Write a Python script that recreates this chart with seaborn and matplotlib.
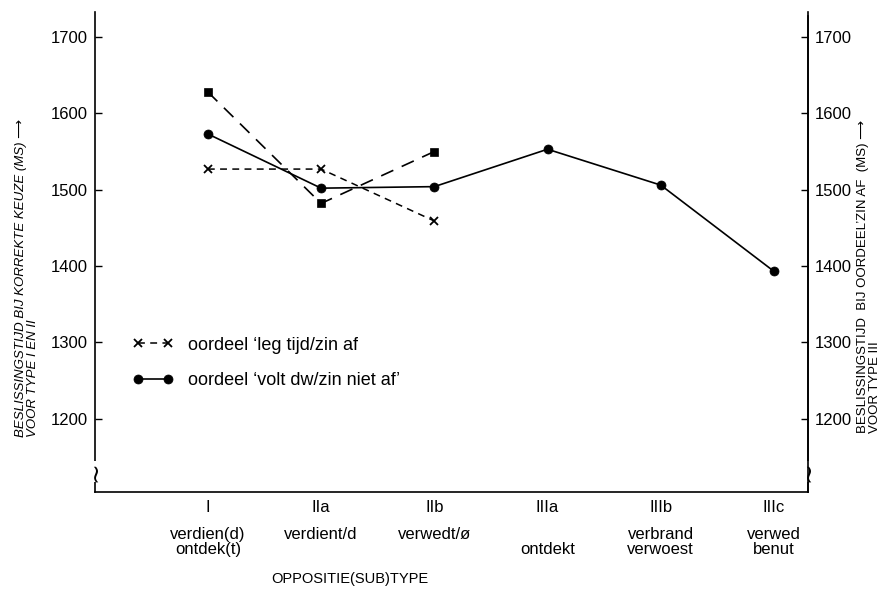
import numpy as np
import pandas as pd
import seaborn as sns
import matplotlib
matplotlib.use('Agg')
from matplotlib import pyplot as plt
import matplotlib.transforms as mtransforms

# Opposition (sub)types on the x axis, with example words beneath
types = ['I', 'IIa', 'IIb', 'IIIa', 'IIIb', 'IIIc']
words = ['verdien(d)\nontdek(t)', 'verdient/d', 'verwedt/ø', '\nontdekt', 'verbrand\nverwoest', 'verwed\nbenut']

# Decision times (ms)
leg_tijd = [1527, 1527, 1459]                      # oordeel 'leg tijd/zin af  (x, short dash)
volt_dw = [1573, 1502, 1504, 1553, 1506, 1393]     # oordeel 'volt dw/zin niet af'  (dot, solid)
zin_af = [1628, 1482, 1550]                        # squares, long dash (no legend entry)

sns.set_theme(style='white')
plt.rcParams['font.family'] = ['Liberation Sans', 'DejaVu Sans']
plt.rcParams['text.color'] = 'black'
plt.rcParams['axes.labelcolor'] = 'black'

fig = plt.figure(figsize=(8.91, 5.92), dpi=100)
ax = fig.add_axes([0.1066, 0.169, 0.8002, 0.811])

pos = np.arange(len(types))
sns.lineplot(x=pos[:len(leg_tijd)], y=leg_tijd, ax=ax, color='black', lw=1.1,
             linestyle=(0, (4.5, 3.5)), marker='x', markersize=6,
             markeredgecolor='black', markeredgewidth=1.3)
sns.lineplot(x=pos[:len(zin_af)], y=zin_af, ax=ax, color='black', lw=1.2,
             linestyle=(0, (8, 5.5)), marker='s', markersize=6,
             markeredgecolor='black', markeredgewidth=0.5)
sns.lineplot(x=pos, y=volt_dw, ax=ax, color='black', lw=1.2,
             marker='o', markersize=6.5, markeredgecolor='black', markeredgewidth=0.5)
h_x, h_s, h_o = ax.get_lines()[:3]

ax.set_xlim(-0.997, 5.30)
ax.set_ylim(1104, 1733)
yt = [1200, 1300, 1400, 1500, 1600, 1700]
ax.set_yticks(yt)
ax.set_yticklabels([str(v) for v in yt], fontsize=12)
ax.xaxis.remove_overlapping_locs = False
ax.set_xticks(pos)
ax.set_xticklabels(types, fontsize=12)
ax.set_xticks(pos, minor=True)
ax.set_xticklabels(words, minor=True, fontsize=12, linespacing=1.0)
ax.tick_params(axis='x', which='major', direction='in', length=4, width=1, pad=6, colors='black')
ax.tick_params(axis='x', which='minor', length=0, pad=25, colors='black')
ax.tick_params(axis='y', direction='in', length=5, width=1, pad=5, colors='black', left=True)
ax.set_xlabel('')
ax.set_ylabel('')

ax2 = ax.twinx()
ax2.set_ylim(ax.get_ylim())
ax2.set_yticks(yt)
ax2.set_yticklabels([str(v) for v in yt], fontsize=12)
ax2.tick_params(axis='y', direction='in', length=5, width=1, pad=5, colors='black', right=True)
ax2.grid(False)

for a in (ax, ax2):
    a.spines['top'].set_visible(False)
    for s in ('left', 'right', 'bottom'):
        a.spines[s].set_color('black')
        a.spines[s].set_linewidth(1.2)
ax2.spines['left'].set_visible(False)
ax2.spines['bottom'].set_visible(False)
ax2.spines['right'].set_bounds(1104, 1728)

# axis-break squiggles near the bottom of both y axes
tr = mtransforms.blended_transform_factory(ax.transAxes, ax.transData)
for xa in (0, 1):
    ax.text(xa, 1131, '~', transform=tr, rotation=90, ha='center', va='center',
            fontsize=18, family='DejaVu Sans', clip_on=False, zorder=5,
            bbox=dict(boxstyle='square,pad=0.0', fc='white', ec='none'))

ax.legend(handles=[h_x, h_o],
          labels=['oordeel ‘leg tijd/zin af', 'oordeel ‘volt dw/zin niet af’'],
          loc='center left', bbox_to_anchor=(0.042, 0.269), borderaxespad=0,
          frameon=False, numpoints=2, handlelength=2.3, handletextpad=0.8,
          labelspacing=1.0, fontsize=13)

fig.text(0.017, 0.262, 'BESLISSINGSTIJD BIJ KORREKTE KEUZE (MS) ⟶\nVOOR TYPE I EN II',
         rotation=90, ha='left', va='bottom', fontsize=9.5, style='italic',
         linespacing=1.0, multialignment='left')
fig.text(0.962, 0.268, 'BESLISSINGSTIJD  BIJ OORDEEL’ZIN AF  (MS) ⟶\nVOOR TYPE III',
         rotation=90, ha='left', va='bottom', fontsize=9.5,
         linespacing=1.0, multialignment='left')
fig.text(0.393, 0.01, 'OPPOSITIE(SUB)TYPE', ha='center', va='bottom', fontsize=10.5)

plt.savefig('out.png', dpi=100)
